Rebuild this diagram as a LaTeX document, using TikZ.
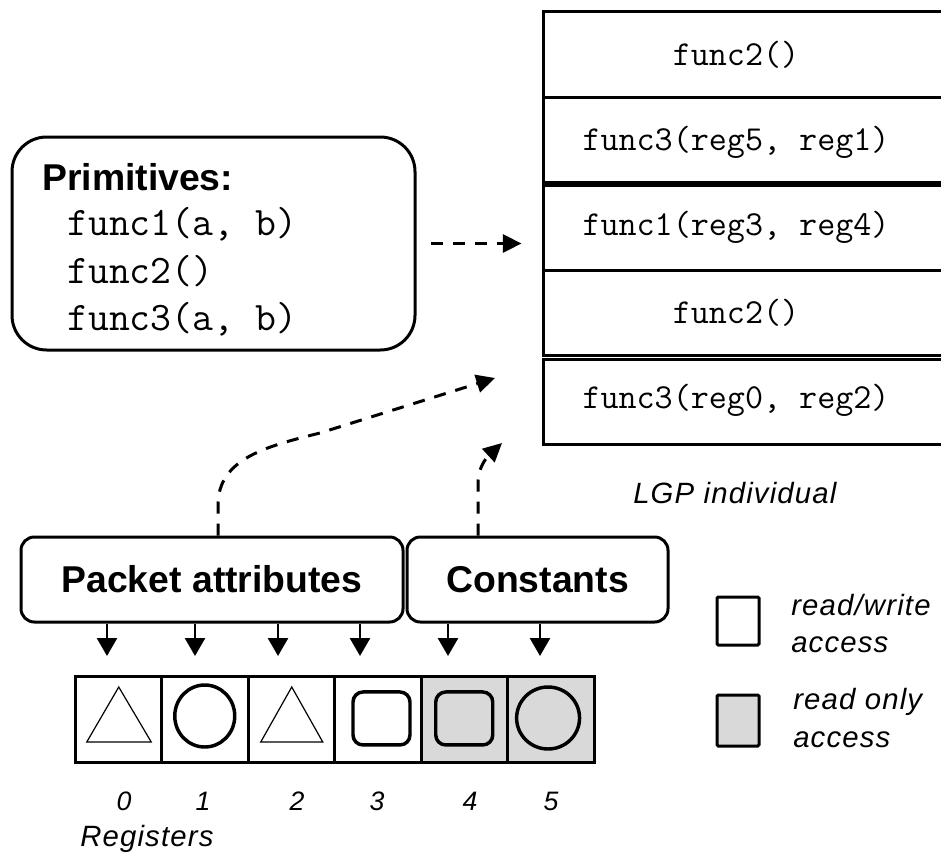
\documentclass[tikz,border=0pt]{standalone}
\usepackage{fontspec}
\setmainfont{Liberation Sans}
\newfontfamily\spacedsans[LetterSpace=4]{Liberation Sans}
\usetikzlibrary{arrows.meta}

\definecolor{rogrey}{HTML}{D9D9D9}

\tikzset{
  lgpbox/.style={draw, line width=2.25pt, minimum width=303.75pt, minimum height=63.75pt, inner sep=0pt},
  lgptext/.style={font=\ttfamily\fontsize{26.3}{30}\selectfont, inner sep=0pt, anchor=base},
  primtext/.style={font=\ttfamily\fontsize{30.4}{35}\selectfont, inner sep=0pt, anchor=base west},
  boldtext/.style={font=\bfseries\fontsize{28}{33}\selectfont},
  roundbox/.style={draw, line width=2.25pt, rounded corners=10pt, inner sep=0pt, boldtext},
  regcell/.style={draw, line width=2.25pt, minimum width=64.875pt, minimum height=64.5pt, inner sep=0pt},
  thinshape/.style={line width=0.9pt},
  thickshape/.style={line width=2.6pt},
  rsq/.style={draw, thickshape, rounded corners=7.5pt, minimum width=42.75pt, minimum height=39.75pt, inner sep=0pt},
  legendbox/.style={draw, line width=2.25pt, rounded corners=1pt, minimum width=31.5pt, inner sep=0pt},
  itext/.style={font=\spacedsans\itshape\fontsize{22}{26}\selectfont, inner sep=0pt, anchor=base west},
  digit/.style={font=\itshape\fontsize{20}{24}\selectfont, inner sep=0pt, anchor=base},
  dasharrow/.style={line width=2.25pt, dash pattern=on 9pt off 7.5pt, -{Triangle[length=14pt,width=13.5pt]}},
  downarrow/.style={line width=2pt, -{Triangle[length=13.5pt,width=15pt]}},
}

\begin{document}
\begin{tikzpicture}[x=0.75pt, y=-0.75pt]
\useasboundingbox (0,0) rectangle (941,856);
\clip (0,0) rectangle (941,856);
\fill[white] (0,0) rectangle (941,856);

% LGP individual: a stack of instructions
\node[lgpbox] (g1) at (745.5,54.5) {};
\node[lgpbox] (g2) at (745.5,139.5) {};
\node[lgpbox] (g3) at (745.5,227.5) {};
\node[lgpbox] (g4) at (745.5,312.5) {};
\node[lgpbox] (g5) at (745.5,401.5) {};
\node[lgptext] (t1) at (736,65) {func2()};
\node[lgptext] (t2) at (736,150) {func3(reg5, reg1)};
\node[lgptext] (t3) at (736,235) {func1(reg3, reg4)};
\node[lgptext] (t4) at (736,323) {func2()};
\node[lgptext] (t5) at (736,408) {func3(reg0, reg2)};
\node[itext] (lgplabel) at (633,503) {LGP individual};

% Primitive set
\node[draw, line width=2.25pt, rounded corners=26pt, minimum width=302.25pt, minimum height=159.75pt, inner sep=0pt] (prim) at (213.5,243.5) {};
\node[boldtext, inner sep=0pt, anchor=base west] (primtitle) at (42,190) {Primitives:};
\node[primtext] (p1) at (67,235) {func1(a, b)};
\node[primtext] (p2) at (67,283) {func2()};
\node[primtext] (p3) at (67,330) {func3(a, b)};

\draw[dasharrow, shorten <=11pt, shorten >=15pt] (prim.east) -- (prim.east -| g3.west);

% Register sources
\node[roundbox, minimum width=286.5pt, minimum height=63.75pt] (pa) at (212,579.5) {Packet attributes};
\node[roundbox, minimum width=195.75pt, minimum height=63.75pt] (cn) at (537.5,579.5) {Constants};

\coordinate (s1) at (218,537);
\coordinate (e1) at (495,378);
\coordinate (s2) at (478,537);
\coordinate (e2) at (502,443);
\draw[dasharrow] (pa.north -| s1) -- (218,505) .. controls (218,458) and (268,446) .. (320,433) -- (e1);
\draw[dasharrow] (cn.north -| s2) -- (478,482) .. controls (478,466) and (489,455) .. (e2);

% Register file
\node[regcell] (c0) at (118.25,719) {};
\node[regcell] (c1) at (204.75,719) {};
\node[regcell] (c2) at (291.25,719) {};
\node[regcell] (c3) at (377.75,719) {};
\node[regcell, fill=rogrey] (c4) at (464.25,719) {};
\node[regcell, fill=rogrey] (c5) at (550.75,719) {};

\draw[thinshape, shift={(c0.center)}] (0.5,-32) -- (33,23) -- (-31.5,23) -- cycle;
\draw[thickshape] ([yshift=2.25pt]c1.center) ellipse [x radius=22.5pt, y radius=23.25pt];
\draw[thinshape, shift={(c2.center)}] (0.5,-32) -- (31.5,23) -- (-30.5,23) -- cycle;
\node[rsq] (q3) at ([xshift=2.8pt, yshift=0.4pt]c3.center) {};
\node[rsq] (q4) at ([yshift=0.4pt]c4.center) {};
\draw[thickshape] ([xshift=-2pt, yshift=0.75pt]c5.center) ellipse [x radius=23.6pt, y radius=23.25pt];

% Arrows from the sources into the registers
\coordinate (a0) at (107,656);
\coordinate (a1) at (195,656);
\coordinate (a2) at (278,656);
\coordinate (a3) at (360,656);
\coordinate (a4) at (448,656);
\coordinate (a5) at (540,656);
\foreach \a in {a0,a1,a2,a3} \draw[downarrow] (pa.south -| \a) -- (\a);
\foreach \a in {a4,a5} \draw[downarrow] (cn.south -| \a) -- (\a);

% Register indices
\node[digit] (d0) at (124,810) {0};
\node[digit] (d1) at (203,810) {1};
\node[digit] (d2) at (297,810) {2};
\node[digit] (d3) at (377,810) {3};
\node[digit] (d4) at (470,810) {4};
\node[digit] (d5) at (551,810) {5};
\node[itext] (reglabel) at (80,846) {Registers};

% Legend
\node[legendbox, minimum height=36pt] (lg1) at (738,621) {};
\node[legendbox, minimum height=38.25pt, fill=rogrey] (lg2) at (738,720.5) {};
\node[itext] (l1a) at (791,615) {read/write};
\node[itext] (l1b) at (791,652) {access};
\node[itext] (l2a) at (793,709) {read only};
\node[itext] (l2b) at (793,747) {access};
\end{tikzpicture}
\end{document}
